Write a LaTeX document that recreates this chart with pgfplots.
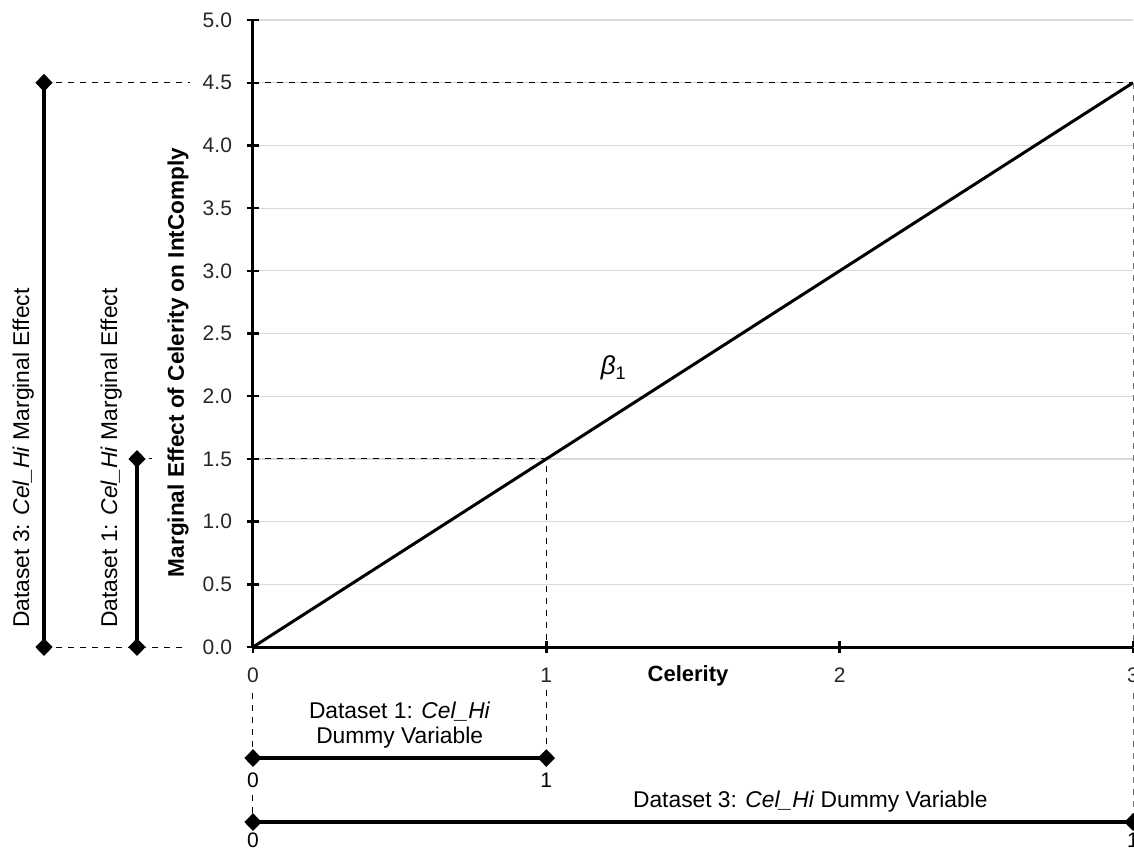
\documentclass[border=0pt]{standalone}
\usepackage{pgfplots}
\pgfplotsset{compat=1.18}
\usepackage{fontspec}
\setmainfont{Liberation Sans}

\begin{document}
\begin{tikzpicture}[font=\fontsize{11.4}{12.5}\selectfont]
\begin{axis}[
  scale only axis, width=440pt, height=313.5pt,
  xmin=0, xmax=3, ymin=0, ymax=5,
  axis lines*=left,
  axis line style={line width=1.5pt},
  xtick={0,1,2,3},
  ytick={0,0.5,1,1.5,2,2.5,3,3.5,4,4.5,5},
  ymajorgrids,
  grid style={gray!30, line width=0.6pt},
  tick align=center, major tick length=6pt,
  tick style={line width=1.2pt, black},
  /pgf/number format/assume math mode=true,
  yticklabel style={xshift=-4pt, /pgf/number format/.cd, fixed, fixed zerofill, precision=1},
  xticklabel style={yshift=-4pt},
  tick label style={font=\fontsize{10.5}{12}\selectfont, text=black!85},
  clip=false,
]
  % main line
  \addplot[black, line width=1.5pt] coordinates {(0,0) (3,4.5)};

  % dashed guides (broken where labels sit)
  \begin{scope}[dashed, line width=0.5pt]
  \draw (axis cs:-0.7125,4.5) -- (axis cs:-0.215,4.5);
  \draw (axis cs:0,4.5) -- (axis cs:3,4.5);
  \draw (axis cs:-0.7125,0) -- (axis cs:-0.232,0);
  \draw (axis cs:-0.3955,1.5) -- (axis cs:-0.344,1.5);
  \draw (axis cs:0,1.5) -- (axis cs:1,1.5) -- (axis cs:1,0);
  \draw (axis cs:1,-0.343) -- (axis cs:1,-0.885);
  \draw (axis cs:0,-0.367) -- (axis cs:0,-0.885);
  \draw (axis cs:0,-1.18) -- (axis cs:0,-1.3955);
  \draw[black!55] (axis cs:3,4.5) -- (axis cs:3,0);
  \draw[black!55] (axis cs:3,-0.367) -- (axis cs:3,-1.3955);
  \end{scope}

  % annotation bars
  \pgfplotsset{annbar/.style={black, line width=2pt, mark=diamond*, mark size=3pt, mark options={xscale=1.3}}}
  \addplot[annbar] coordinates {(-0.7125,0) (-0.7125,4.5)};
  \addplot[annbar] coordinates {(-0.3955,0) (-0.3955,1.5)};
  \addplot[annbar] coordinates {(0,-0.885) (1,-0.885)};
  \addplot[annbar] coordinates {(0,-1.3955) (3,-1.3955)};

  % texts
  \node[rotate=90] at (axis cs:-0.7835,1.507) {Dataset 3: \textit{Cel\_Hi} Marginal Effect};
  \node[rotate=90] at (axis cs:-0.4835,1.507) {Dataset 1: \textit{Cel\_Hi} Marginal Effect};
  \node[rotate=90, font=\fontsize{11.3}{13}\selectfont\bfseries] at (axis cs:-0.2557,2.27) {Marginal Effect of Celerity on IntComply};
  \node[font=\fontsize{11}{12}\selectfont\bfseries] at (axis cs:1.483,-0.231) {Celerity};
  \node at (axis cs:1.23,2.225) {\fontsize{13}{15}\selectfont\itshape β\textsubscript{\upshape 1}};
  \node[align=center] at (axis cs:0.50,-0.622) {Dataset 1: \textit{Cel\_Hi}\\Dummy Variable};
  \node at (axis cs:1.9,-1.236) {Dataset 3: \textit{Cel\_Hi} Dummy Variable};
  \node[font=\fontsize{10.5}{12}\selectfont] at (axis cs:0,-1.06) {0};
  \node[font=\fontsize{10.5}{12}\selectfont] at (axis cs:1,-1.06) {1};
  \node[font=\fontsize{10.5}{12}\selectfont] at (axis cs:0,-1.54) {0};
  \node[font=\fontsize{10.5}{12}\selectfont] at (axis cs:3,-1.54) {1};

  \coordinate (bl) at (axis cs:-0.8625,-1.635);
  \coordinate (tr) at (axis cs:3.0034,5.16);
\end{axis}
\pgfresetboundingbox
\path[use as bounding box] (bl) rectangle (tr);
\end{tikzpicture}
\end{document}
